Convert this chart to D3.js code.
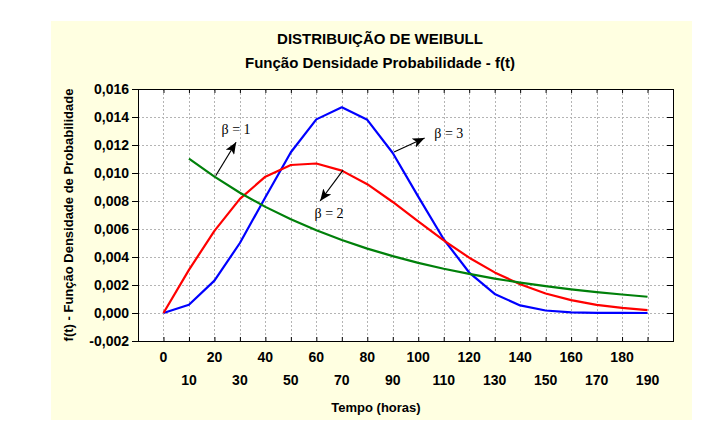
<!DOCTYPE html>
<html><head><meta charset="utf-8">
<script src="https://cdn.jsdelivr.net/npm/d3@7"></script>
<style>
html,body{margin:0;padding:0;background:#fff;}
svg{display:block;}
</style></head>
<body>
<svg id="chart" width="714" height="435"></svg>
<script>
// ---- data ----
const tempo = [0,10,20,30,40,50,60,70,80,90,100,110,120,130,140,150,160,170,180,190];
const beta1Tempo = [10,20,30,40,50,60,70,80,90,100,110,120,130,140,150,160,170,180,190];
const beta1 = [0.01103,0.00974,0.00859,0.00758,0.00669,0.00591,0.00521,0.00460,0.00406,0.00358,0.00316,0.00279,0.00246,0.00217,0.00192,0.00169,0.00149,0.00132,0.00116];
const beta2 = [0,0.00308,0.00587,0.00815,0.00974,0.01057,0.01068,0.01017,0.00920,0.00793,0.00655,0.00519,0.00395,0.00290,0.00205,0.00139,0.00092,0.00058,0.00036,0.00021];
const beta3 = [0,0.00059,0.00231,0.00500,0.00827,0.01148,0.01383,0.01469,0.01380,0.01143,0.00831,0.00527,0.00289,0.00136,0.00054,0.00018,0.00005,0.00001,0.000002,0];
const yTicks = [-0.002,0,0.002,0.004,0.006,0.008,0.010,0.012,0.014,0.016];
const xTicks = [0,10,20,30,40,50,60,70,80,90,100,110,120,130,140,150,160,170,180,190];
const titleText = "DISTRIBUIÇÃO DE WEIBULL";
const subtitleText = "Função Densidade Probabilidade - f(t)";
const xTitle = "Tempo (horas)";
const yTitle = "f(t) - Função Densidade de Probabilidade";
const annotations = [
  {label:"β = 1", from:[20.5,0.0098], to:[28.5,0.0122], text:[28.5,0.0128]},
  {label:"β = 2", from:[70.5,0.0102], to:[61.5,0.0080], text:[65,0.0068]},
  {label:"β = 3", from:[90.5,0.0115], to:[102.5,0.0125], text:[112,0.0125]}
];

// ---- layout ----
const SANS = '"Liberation Sans", Arial, sans-serif';
const SERIF = '"Liberation Serif", "Times New Roman", serif';
const svg = d3.select("#chart");
const L = 138, R = 673, T = 89, B = 341;
const x = d3.scaleLinear().domain([-10,200]).range([L,R]);
const y = d3.scaleLinear().domain([-0.002,0.016]).range([B,T]);
const loc = d3.formatLocale({decimal:",", thousands:".", grouping:[3], currency:["",""], minus:"-"});
const fy = loc.format(".3f");

svg.append("rect").attr("x",51).attr("y",21).attr("width",641).attr("height",399).attr("fill","#ffffe1");
svg.append("rect").attr("x",L).attr("y",T).attr("width",R-L).attr("height",B-T).attr("fill","#ffffff");

// grid
const grid = svg.append("g").attr("stroke","#b4b4b4").attr("stroke-width",1).attr("stroke-dasharray","2,2");
grid.selectAll(".vx").data(xTicks).join("line")
  .attr("x1",d=>Math.round(x(d))+0.5).attr("x2",d=>Math.round(x(d))+0.5).attr("y1",T).attr("y2",B);
grid.selectAll(".hy").data(yTicks.slice(1,-1)).join("line")
  .attr("y1",d=>Math.round(y(d))+0.5).attr("y2",d=>Math.round(y(d))+0.5).attr("x1",L).attr("x2",R);

// axes
const axL = svg.append("g").attr("transform",`translate(${L},0)`)
  .call(d3.axisLeft(y).tickValues(yTicks).tickFormat(fy).tickSize(6).tickSizeOuter(0).tickPadding(3));
axL.select(".domain").remove();
axL.selectAll("text").style("font-size","14px").style("font-weight","bold").style("font-family",SANS).attr("fill","#000");
const axR = svg.append("g").attr("transform",`translate(${R},0)`)
  .call(d3.axisLeft(y).tickValues(yTicks).tickFormat("").tickSize(6).tickSizeOuter(0));
axR.select(".domain").remove();
const axB = svg.append("g").attr("transform",`translate(0,${B})`)
  .call(d3.axisTop(x).tickValues(xTicks).tickFormat("").tickSize(4).tickSizeOuter(0));
axB.select(".domain").remove();
const axT = svg.append("g").attr("transform",`translate(0,${T})`)
  .call(d3.axisBottom(x).tickValues(xTicks).tickFormat("").tickSize(4).tickSizeOuter(0));
axT.select(".domain").remove();
svg.append("rect").attr("x",L+0.5).attr("y",T+0.5).attr("width",R-L).attr("height",B-T)
  .attr("fill","none").attr("stroke","#000").attr("stroke-width",1);

// x tick labels in two rows
svg.append("g").selectAll("text").data(xTicks).join("text")
  .attr("x",d=>x(d)).attr("y",(d,i)=> i%2===0 ? 362 : 385).attr("fill","#000")
  .attr("text-anchor","middle").style("font-family",SANS).style("font-size","14px").style("font-weight","bold").text(d=>d);

// titles
svg.append("text").attr("x",380).attr("y",44).attr("text-anchor","middle").attr("fill","#000").style("font-family",SANS).style("font-size","15px").style("font-weight","bold").text(titleText);
svg.append("text").attr("x",380).attr("y",68).attr("text-anchor","middle").attr("fill","#000").style("font-family",SANS).style("font-size","15px").style("font-weight","bold").text(subtitleText);
svg.append("text").attr("x",376).attr("y",412).attr("text-anchor","middle").attr("fill","#000").style("font-family",SANS).style("font-size","13px").style("font-weight","bold").text(xTitle);
svg.append("text").attr("transform",`translate(73,${(T+B)/2}) rotate(-90)`).attr("text-anchor","middle").attr("fill","#000").style("font-family",SANS).style("font-size","13px").style("font-weight","bold").text(yTitle);

// curves
const line = d3.line().x(d=>x(d[0])).y(d=>y(d[1]));
svg.append("clipPath").attr("id","pc").append("rect").attr("x",L).attr("y",T).attr("width",R-L).attr("height",B-T);
const curves = svg.append("g").attr("clip-path","url(#pc)").attr("fill","none").attr("stroke-width",2.2).attr("stroke-linejoin","round");
curves.append("path").attr("d",line(tempo.map((t,i)=>[t,beta3[i]]))).attr("stroke","#0000ff");
curves.append("path").attr("d",line(tempo.map((t,i)=>[t,beta2[i]]))).attr("stroke","#ff0000");
curves.append("path").attr("d",line(beta1Tempo.map((t,i)=>[t,beta1[i]]))).attr("stroke","#00800a");

// annotations
const defs = svg.append("defs");
defs.append("marker").attr("id","ah").attr("viewBox","0 0 12 10").attr("refX",12).attr("refY",5)
  .attr("markerWidth",12).attr("markerHeight",10).attr("markerUnits","userSpaceOnUse").attr("orient","auto")
  .append("path").attr("d","M0,0 L12,5 L0,10 L3,5 Z").attr("fill","#000");
const ann = svg.append("g");
annotations.forEach(a=>{
  ann.append("line").attr("x1",x(a.from[0])).attr("y1",y(a.from[1])).attr("x2",x(a.to[0])).attr("y2",y(a.to[1]))
    .attr("stroke","#000").attr("stroke-width",1.2).attr("marker-end","url(#ah)");
  ann.append("text").attr("x",x(a.text[0])).attr("y",y(a.text[1])).attr("text-anchor","middle").attr("fill","#000")
    .style("font-family",SERIF).style("font-size","14px").text(a.label);
});
</script>
</body></html>
